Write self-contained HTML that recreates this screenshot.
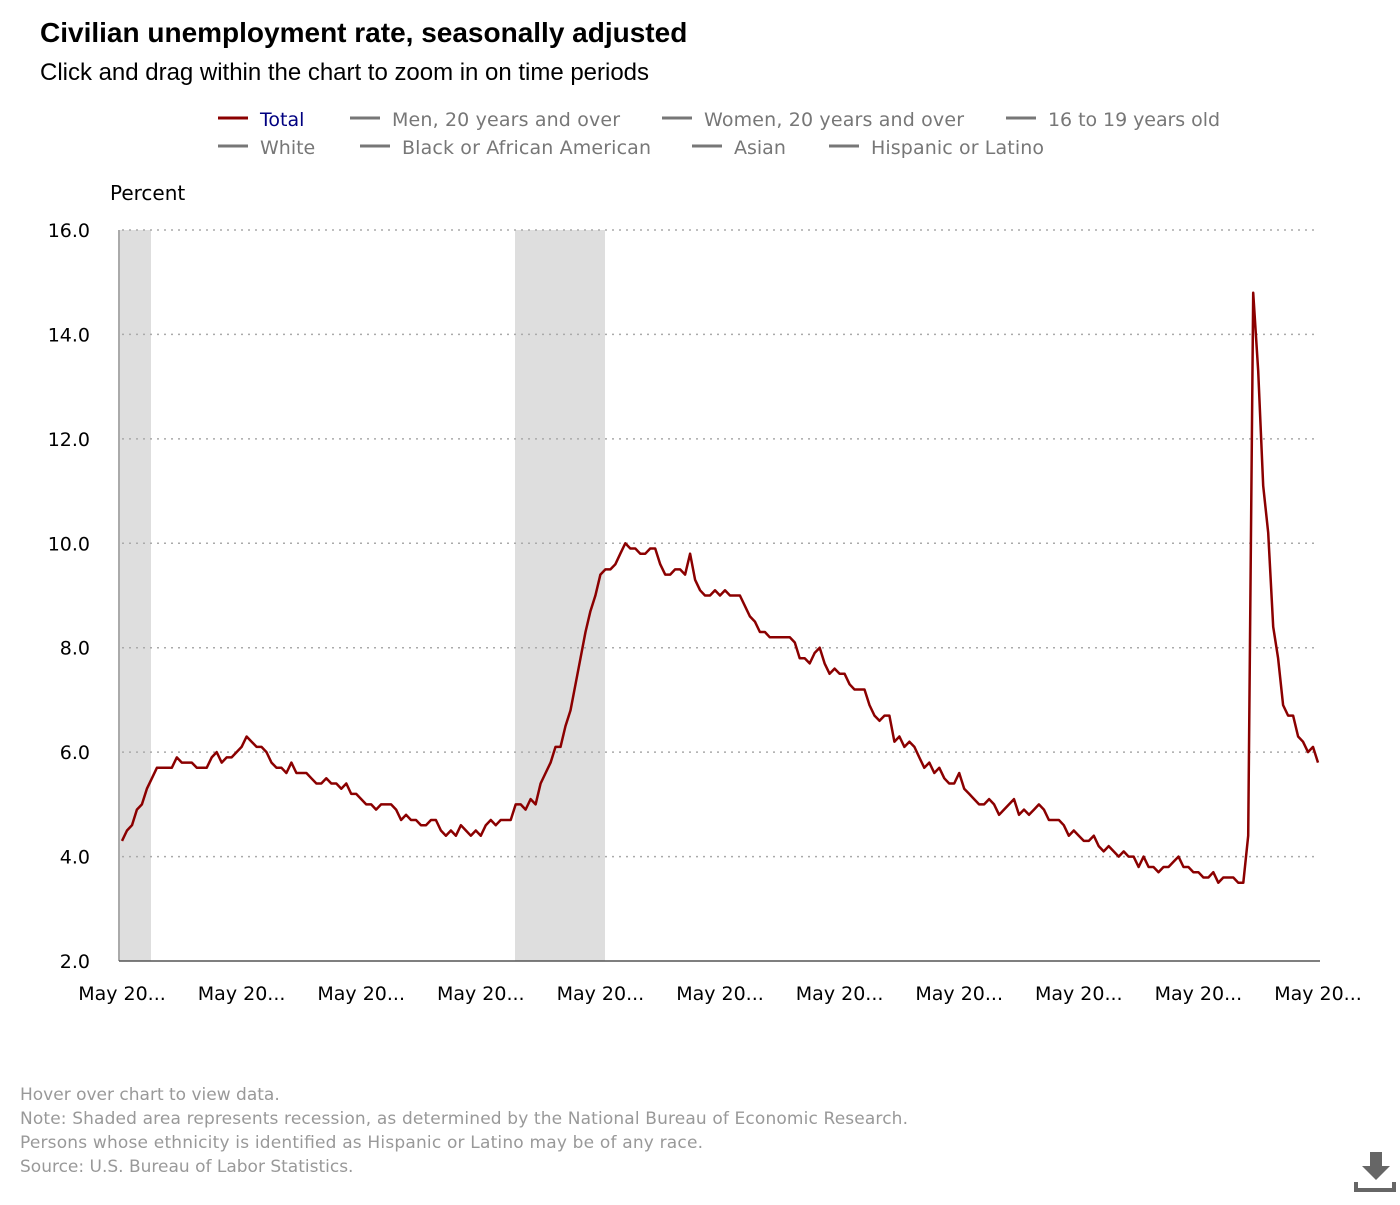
<!DOCTYPE html>
<html><head><meta charset="utf-8"><style>
body{margin:0;width:1400px;height:1200px;background:#fff;font-family:"Liberation Sans","DejaVu Sans",sans-serif;overflow:hidden}
svg text{font-family:"DejaVu Sans","Liberation Sans",sans-serif}
</style></head><body>
<svg id="s" width="1400" height="1200" xmlns="http://www.w3.org/2000/svg">
<text x="40" y="42" font-weight="bold" font-size="28" fill="#000" style="font-family:'Liberation Sans'">Civilian unemployment rate, seasonally adjusted</text>
<text x="40" y="80" font-size="24" fill="#000" style="font-family:'Liberation Sans'" textLength="609">Click and drag within the chart to zoom in on time periods</text>
<g font-size="19" fill="#777">
<line x1="218" y1="118" x2="248" y2="118" stroke="#8b0000" stroke-width="3"/><text x="260" y="126" fill="#000080">Total</text>
<line x1="350" y1="118" x2="380" y2="118" stroke="#777" stroke-width="3"/><text x="392" y="126" textLength="228">Men, 20 years and over</text>
<line x1="662" y1="118" x2="692" y2="118" stroke="#777" stroke-width="3"/><text x="704" y="126" textLength="260">Women, 20 years and over</text>
<line x1="1006" y1="118" x2="1036" y2="118" stroke="#777" stroke-width="3"/><text x="1048" y="126" textLength="172">16 to 19 years old</text>
<line x1="218" y1="146" x2="248" y2="146" stroke="#777" stroke-width="3"/><text x="260" y="154">White</text>
<line x1="360" y1="146" x2="390" y2="146" stroke="#777" stroke-width="3"/><text x="402" y="154" textLength="249">Black or African American</text>
<line x1="692" y1="146" x2="722" y2="146" stroke="#777" stroke-width="3"/><text x="734" y="154">Asian</text>
<line x1="829" y1="146" x2="859" y2="146" stroke="#777" stroke-width="3"/><text x="871" y="154" textLength="173">Hispanic or Latino</text>
</g>
<text x="110" y="200" font-size="20" fill="#000">Percent</text>
<rect x="120" y="230" width="31" height="731" fill="#dedede"/>
<rect x="515" y="230" width="90" height="731" fill="#dedede"/>
<g id="grid" stroke="#aaa" stroke-width="1.5" stroke-dasharray="2,5"></g>
<g id="ylab" font-size="19" fill="#000" text-anchor="end"></g>
<line x1="119" y1="230" x2="119" y2="961" stroke="#555" stroke-width="1"/>
<line x1="119" y1="961" x2="1320" y2="961" stroke="#555" stroke-width="1.5"/>
<g id="xlab" font-size="19" fill="#000" text-anchor="middle"></g>
<polyline id="ln" fill="none" stroke="#8b0000" stroke-width="2.5" stroke-linejoin="round"/>
<g font-size="17" fill="#999">
<text x="20" y="1100">Hover over chart to view data.</text>
<text x="20" y="1124" textLength="888">Note: Shaded area represents recession, as determined by the National Bureau of Economic Research.</text>
<text x="20" y="1148" textLength="683">Persons whose ethnicity is identified as Hispanic or Latino may be of any race.</text>
<text x="20" y="1172">Source: U.S. Bureau of Labor Statistics.</text>
</g>
<rect x="1370" y="1152" width="12" height="14" fill="#666"/>
<polygon points="1362,1166 1390,1166 1376,1180" fill="#666"/>
<path d="M1356,1182 V1190 H1394 V1182" fill="none" stroke="#666" stroke-width="4"/>
</svg>
<script>
var d=[4.3,4.5,4.6,4.9,5.0,5.3,5.5,5.7,
5.7,5.7,5.7,5.9,5.8,5.8,5.8,5.7,5.7,5.7,5.9,6.0,
5.8,5.9,5.9,6.0,6.1,6.3,6.2,6.1,6.1,6.0,5.8,5.7,
5.7,5.6,5.8,5.6,5.6,5.6,5.5,5.4,5.4,5.5,5.4,5.4,
5.3,5.4,5.2,5.2,5.1,5.0,5.0,4.9,5.0,5.0,5.0,4.9,
4.7,4.8,4.7,4.7,4.6,4.6,4.7,4.7,4.5,4.4,4.5,4.4,
4.6,4.5,4.4,4.5,4.4,4.6,4.7,4.6,4.7,4.7,4.7,5.0,
5.0,4.9,5.1,5.0,5.4,5.6,5.8,6.1,6.1,6.5,6.8,7.3,
7.8,8.3,8.7,9.0,9.4,9.5,9.5,9.6,9.8,10.0,9.9,9.9,
9.8,9.8,9.9,9.9,9.6,9.4,9.4,9.5,9.5,9.4,9.8,9.3,
9.1,9.0,9.0,9.1,9.0,9.1,9.0,9.0,9.0,8.8,8.6,8.5,
8.3,8.3,8.2,8.2,8.2,8.2,8.2,8.1,7.8,7.8,7.7,7.9,
8.0,7.7,7.5,7.6,7.5,7.5,7.3,7.2,7.2,7.2,6.9,6.7,
6.6,6.7,6.7,6.2,6.3,6.1,6.2,6.1,5.9,5.7,5.8,5.6,
5.7,5.5,5.4,5.4,5.6,5.3,5.2,5.1,5.0,5.0,5.1,5.0,
4.8,4.9,5.0,5.1,4.8,4.9,4.8,4.9,5.0,4.9,4.7,4.7,
4.7,4.6,4.4,4.5,4.4,4.3,4.3,4.4,4.2,4.1,4.2,4.1,
4.0,4.1,4.0,4.0,3.8,4.0,3.8,3.8,3.7,3.8,3.8,3.9,
4.0,3.8,3.8,3.7,3.7,3.6,3.6,3.7,3.5,3.6,3.6,3.6,
3.5,3.5,4.4,14.8,13.3,11.1,10.2,8.4,7.8,6.9,6.7,6.7,
6.3,6.2,6.0,6.1,5.8];
var X=function(i){return 122+i*(1318-122)/240},Y=function(v){return 961-(v-2)*731/14};
document.getElementById('ln').setAttribute('points',d.map(function(v,i){return X(i).toFixed(1)+','+Y(v).toFixed(1)}).join(' '));
var ns='http://www.w3.org/2000/svg',g=document.getElementById('grid'),yl=document.getElementById('ylab'),xl=document.getElementById('xlab');
for(var v=2;v<=16;v+=2){var y=Y(v);if(v>2){var l=document.createElementNS(ns,'line');l.setAttribute('x1',122);l.setAttribute('x2',1318);l.setAttribute('y1',y);l.setAttribute('y2',y);g.appendChild(l);}
var t=document.createElementNS(ns,'text');t.setAttribute('x',90);t.setAttribute('y',y+7);t.textContent=v.toFixed(1);yl.appendChild(t);}
for(var k=0;k<=10;k++){var t=document.createElementNS(ns,'text');t.setAttribute('x',X(k*24));t.setAttribute('y',1000);t.textContent='May 20...';xl.appendChild(t);}
</script>
</body></html>
